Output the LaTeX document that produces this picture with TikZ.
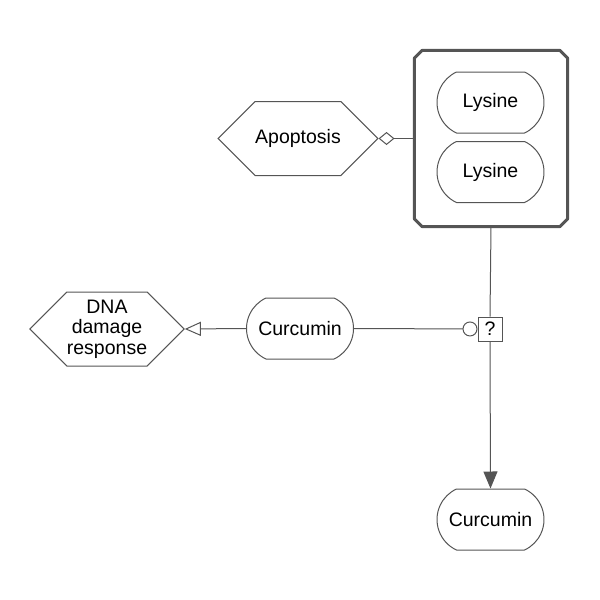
\documentclass[tikz,border=0pt]{standalone}
\usepackage{fontspec}
\setmainfont{Liberation Sans}
\usetikzlibrary{arrows.meta,shapes.misc,shapes.symbols}

\definecolor{linegray}{RGB}{85,85,85}

\tikzset{
  sbgn/.style={draw=linegray, line width=1pt, fill=white, inner sep=0pt, align=center,
    font=\fontsize{19.5}{20.5}\selectfont},
  chem/.style={sbgn, rounded rectangle, rounded rectangle arc length=130,
    minimum width=107pt, minimum height=61pt},
  pheno/.style={sbgn, signal, signal to=west and east, signal pointer angle=90,
    minimum width=150pt, minimum height=74pt},
  cplx/.style={draw=none, rectangle, inner sep=0pt,
    minimum width=153pt, minimum height=176pt},
  cplxline/.style={draw=linegray, line width=3pt, line join=round},
  procbox/.style={sbgn, rectangle, minimum size=24pt},
  link/.style={draw=linegray, line width=1pt},
  modul/.style={link, -{Diamond[fill=white, length=16pt, width=13pt]}},
  stimul/.style={link, -{Triangle[fill=white, length=16pt, width=14pt]}},
  catal/.style={link, -{Circle[fill=white, length=15pt]}},
  prodn/.style={link, -{Triangle[fill=linegray, length=17pt, width=14pt]}}
}

\begin{document}
\begin{tikzpicture}[x=1pt,y=1pt,yscale=-1,xscale=1]
\useasboundingbox (0,0) rectangle (600,600);

%Shape: Complex
\node[cplx] (complex) at (491,138.5) {};
\draw[cplxline] ([xshift=8pt]complex.north west) -- ([xshift=-8pt]complex.north east)
  -- ([yshift=8pt]complex.north east) -- ([yshift=-8pt]complex.south east)
  -- ([xshift=-8pt]complex.south east) -- ([xshift=8pt]complex.south west)
  -- ([yshift=-8pt]complex.south west) -- ([yshift=8pt]complex.north west) -- cycle;
% Lysine inside complex
\node[chem] (lys1) at (490.5,102.5) {Lysine};
\node[chem] (lys2) at (490.5,172) {Lysine};

% Phenotypes
\node[pheno] (apop) at (298,138.5) {Apoptosis};
\node[pheno] (dna) at (107,329) {DNA\\damage\\response};

% Curcumin
\node[chem] (curc1) at (300,328.5) {Curcumin};
\node[chem] (curc2) at (490.5,519.5) {Curcumin};

% Process
\node[procbox] (proc) at (490,329) {?};

% Arcs
\draw[modul] (complex.west) -- (apop.east);
\draw[link] (complex.south) -- (proc.north);
\draw[prodn] (proc.south) -- (curc2.north);
\draw[catal] (curc1.east) -- (proc.west);
\draw[stimul] (curc1.west) -- (dna.east);

\end{tikzpicture}
\end{document}
